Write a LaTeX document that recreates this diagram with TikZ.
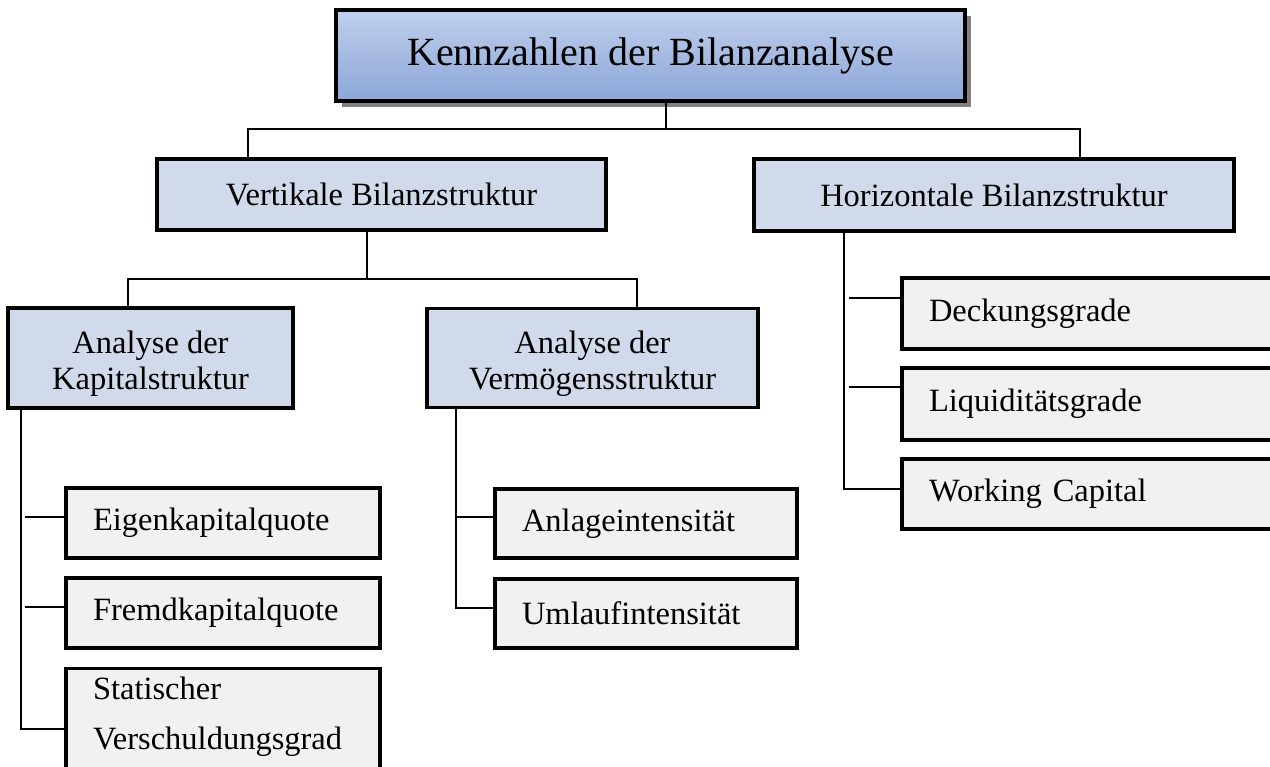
\documentclass[tikz,border=0pt]{standalone}
\usepackage{xcolor}
\usepackage{fontspec}
\setmainfont{Liberation Serif}
\usepackage{tikz}
\usetikzlibrary{shadows}
\usetikzlibrary{positioning}
\definecolor{kopfoben}{RGB}{192,207,236}
\definecolor{kopfmitte}{RGB}{218,227,244}
\definecolor{kopfunten}{RGB}{140,166,216}
\definecolor{strukturblau}{RGB}{208,218,234}
\definecolor{kennzahlgrau}{RGB}{241,241,241}
\newcommand{\kopfschrift}{\fontsize{40}{46}\selectfont}
\newcommand{\boxschrift}{\fontsize{32.5}{36}\selectfont}
\newcommand{\statschrift}{\fontsize{32.5}{50}\selectfont}
\tikzstyle{kopf}=[draw,rectangle,align=center,line width=3.4pt,
top color=kopfoben,middle color=kopfmitte,bottom color=kopfunten,
drop shadow={shadow xshift=6pt,shadow yshift=-6pt,fill=black!50,opacity=1},
font=\kopfschrift]
\tikzstyle{struktur}=[draw,rectangle,align=center,fill=strukturblau,
line width=3.4pt,font=\boxschrift]
\tikzstyle{kennzahl}=[draw,rectangle,align=left,fill=kennzahlgrau,
line width=3.4pt,inner xsep=27pt,font=\boxschrift]
\tikzstyle{ast}=[draw,line width=2.5pt]

\begin{document}
\begin{tikzpicture}[x=1pt,y=-1pt]
	\path[use as bounding box,clip] (0,0) rectangle (1270,767);

	\node[kopf, minimum width=629pt, minimum height=91pt] (KENN) at 
	(650.5,55.5) {Kennzahlen der Bilanzanalyse};

	\node[struktur, minimum width=449pt, minimum height=71pt] (vert) at 
	(381.5,194.5) {Vertikale Bilanzstruktur};
	\node[struktur, minimum width=480pt, minimum height=72pt] (hori) at 
	(994,195) {Horizontale Bilanzstruktur};

	\coordinate (k1) at (666,129);
	\coordinate (t1) at (248,129);
	\coordinate (t2) at (1080,129);
	\path[draw,ast] (KENN.south -| k1) -- (k1);
	\path[draw,ast] (vert.north -| t1) -- (t1) -- (t2) -- (hori.north -| t2);

% % % vertikal
	\node[struktur, minimum width=285pt, minimum height=100pt, 
	text height=64pt, text depth=0pt] (kap) at 
	(150.5,358) {Analyse der\\Kapitalstruktur};
	\node[struktur, minimum width=331pt, minimum height=99pt, 
	text height=64pt, text depth=0pt] (verm) at 
	(592.5,358) {Analyse der\\Verm\"ogensstruktur};

	\coordinate (v0) at (367,279);
	\coordinate (v1) at (128,279);
	\coordinate (v2) at (637,279);
	\path[draw,ast] (vert.south -| v0) -- (v0);
	\path[draw,ast] (kap.north -| v1) -- (v1) -- (v2) -- (verm.north -| v2);

	\node[kennzahl, text width=260pt, minimum height=70pt] (eig) at 
	(223,523) {Eigenkapitalquote};
	\node[kennzahl, text width=260pt, minimum height=70pt] (fremd) at 
	(223,613) {Fremdkapitalquote};
	\node[kennzahl, text width=260pt, anchor=north, inner ysep=8pt, 
	text depth=100pt, font=\statschrift] (stat) at 
	(223,667) {Statischer\\Verschuldungsgrad};

	\coordinate (l0) at (21,729);
	\coordinate (l1) at (25,517);
	\coordinate (l2) at (25,607);
	\path[draw,ast] (kap.south -| l0) -- (l0) -- (l0 -| stat.west);
	\path[draw,ast] (l1) -- (l1 -| eig.west);
	\path[draw,ast] (l2) -- (l2 -| fremd.west);

	\node[kennzahl, text width=248pt, minimum height=69pt] (anl) at 
	(646,523.5) {Anlageintensit\"at};
	\node[kennzahl, text width=248pt, minimum height=69pt] (uml) at 
	(646,613.5) {Umlaufintensit\"at};

	\coordinate (m0) at (456,608);
	\coordinate (m1) at (456,517);
	\path[draw,ast] (verm.south -| m0) -- (m0) -- (m0 -| uml.west);
	\path[draw,ast] (m1) -- (m1 -| anl.west);

% % % horizontal
	\node[kennzahl, text width=344pt, minimum height=71pt] (deck) at 
	(1101,313.5) {Deckungsgrade};
	\node[kennzahl, text width=344pt, minimum height=72pt] (liqu) at 
	(1101,404) {Liquidit\"atsgrade};
	\node[kennzahl, text width=344pt, minimum height=70pt] (work) at 
	(1101,494) {Working Capital};

	\coordinate (r0) at (844,489);
	\coordinate (r1) at (849,298);
	\coordinate (r2) at (849,387);
	\path[draw,ast] (hori.south -| r0) -- (r0) -- (r0 -| work.west);
	\path[draw,ast] (r1) -- (r1 -| deck.west);
	\path[draw,ast] (r2) -- (r2 -| liqu.west);
\end{tikzpicture}
\end{document}
